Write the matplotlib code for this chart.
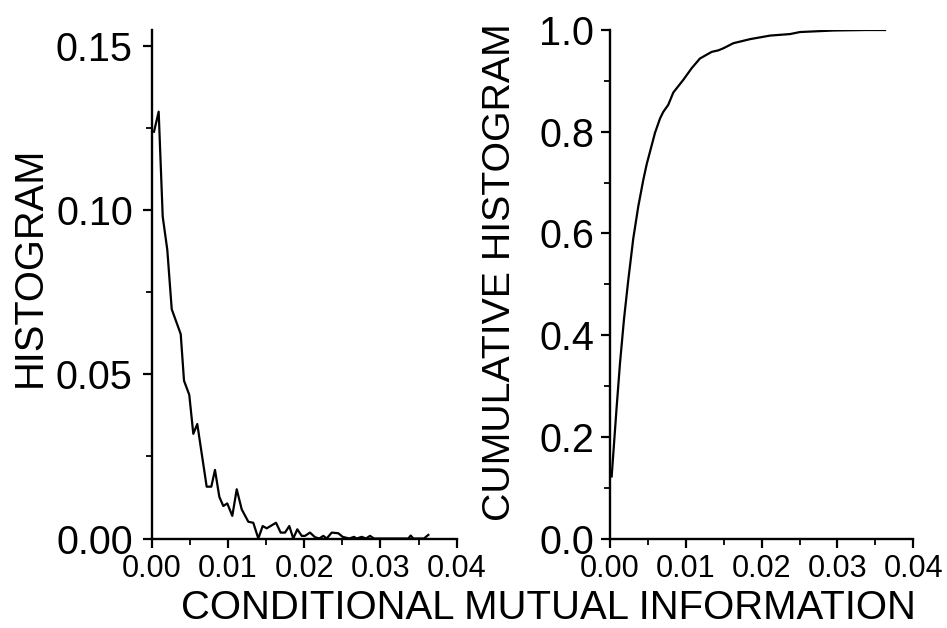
import matplotlib
matplotlib.use('Agg')
import matplotlib.pyplot as plt
from matplotlib.ticker import MultipleLocator

plt.rcParams['font.family'] = ['Liberation Sans', 'DejaVu Sans']

# histogram of conditional mutual information
hist_x = [0.00033, 0.00094, 0.00147, 0.00207, 0.00265, 0.00383, 0.00426, 0.00495,
          0.00548, 0.00600, 0.00723, 0.00784, 0.00832, 0.00889, 0.00941, 0.00993,
          0.01059, 0.01117, 0.01182, 0.01269, 0.01334, 0.01400, 0.01457, 0.01510,
          0.01632, 0.01693, 0.01750, 0.01806, 0.01858, 0.01911, 0.01969, 0.02012,
          0.02077, 0.02143, 0.02199, 0.02252, 0.02296, 0.02362, 0.02448, 0.02506,
          0.02592, 0.02654, 0.02689, 0.02755, 0.02811, 0.02864, 0.02916, 0.02972,
          0.03366, 0.03397, 0.03431, 0.03571, 0.03628]
hist_y = [0.1240, 0.1301, 0.0981, 0.0880, 0.0699, 0.0623, 0.0481, 0.0438,
          0.0319, 0.0349, 0.0158, 0.0158, 0.0209, 0.0127, 0.0099, 0.0107,
          0.0069, 0.0150, 0.0089, 0.0051, 0.0048, 0.0000, 0.0038, 0.0031,
          0.0048, 0.0018, 0.0018, 0.0038, 0.0000, 0.0028, 0.0008, 0.0008,
          0.0018, 0.0004, 0.0000, 0.0008, 0.0000, 0.0018, 0.0016, 0.0005,
          0.0000, 0.0005, 0.0000, 0.0005, 0.0000, 0.0008, 0.0000, 0.0000,
          0.0000, 0.0009, 0.0000, 0.0000, 0.0011]

# cumulative histogram
cum_x = [0.00022, 0.00088, 0.00132, 0.00185, 0.00241, 0.00307, 0.00373, 0.00439,
         0.00484, 0.00594, 0.00660, 0.00703, 0.00769, 0.00835, 0.00967, 0.01078,
         0.01187, 0.01342, 0.01429, 0.01495, 0.01627, 0.01847, 0.02111, 0.02375,
         0.02507, 0.02946, 0.03387, 0.03628]
cum_y = [0.122, 0.259, 0.345, 0.432, 0.508, 0.590, 0.653, 0.705,
         0.736, 0.798, 0.826, 0.839, 0.853, 0.877, 0.902, 0.925,
         0.944, 0.957, 0.960, 0.964, 0.974, 0.982, 0.989, 0.992,
         0.996, 0.999, 1.000, 1.000]

fig = plt.figure(figsize=(9.47, 6.28), dpi=100)
ax1 = fig.add_axes([151.5 / 947, 89.5 / 628, 305.2 / 947, 508.5 / 628])
ax2 = fig.add_axes([610 / 947, 89.5 / 628, 303.2 / 947, 508.5 / 628])

ax1.plot(hist_x, hist_y, color='black', lw=1.6)
ax2.plot(cum_x, cum_y, color='black', lw=1.6)

ax1.set_ylim(0, 0.155)
ax1.yaxis.set_minor_locator(MultipleLocator(0.025))
ax1.set_yticks([0, 0.05, 0.10, 0.15])
ax1.set_yticklabels(['0.00', '0.05', '0.10', '0.15'])

ax2.set_ylim(0, 1.0)
ax2.yaxis.set_minor_locator(MultipleLocator(0.1))
ax2.set_yticks([0, 0.2, 0.4, 0.6, 0.8, 1.0])
ax2.set_yticklabels(['0.0', '0.2', '0.4', '0.6', '0.8', '1.0'])

for ax in (ax1, ax2):
    ax.set_xlim(0, 0.04)
    ax.set_xticks([0, 0.01, 0.02, 0.03, 0.04])
    ax.set_xticklabels(['0.00', '0.01', '0.02', '0.03', '0.04'])
    ax.xaxis.set_minor_locator(MultipleLocator(0.005))
    for s in ('top', 'right'):
        ax.spines[s].set_visible(False)
    for s in ('left', 'bottom'):
        ax.spines[s].set_linewidth(1.7)
    ax.tick_params(which='major', direction='out', length=6.5, width=1.6)
    ax.tick_params(which='minor', direction='out', length=4.3, width=1.3)
    ax.tick_params(axis='x', labelsize=22, pad=5)
    ax.tick_params(axis='y', labelsize=28.5)

ax1.tick_params(axis='y', pad=7)
ax2.tick_params(axis='y', pad=5)

fig.text(30 / 947, 1 - 267 / 628, 'HISTOGRAM', rotation=90, ha='center', va='center', fontsize=28.7)
fig.text(500 / 947, 1 - 272 / 628, 'CUMULATIVE HISTOGRAM', rotation=90, ha='center', va='center', fontsize=28.3)
fig.text(548 / 947, 1 - 608 / 628, 'CONDITIONAL MUTUAL INFORMATION', ha='center', va='center', fontsize=28.9)

fig.savefig('out.png', dpi=100)
